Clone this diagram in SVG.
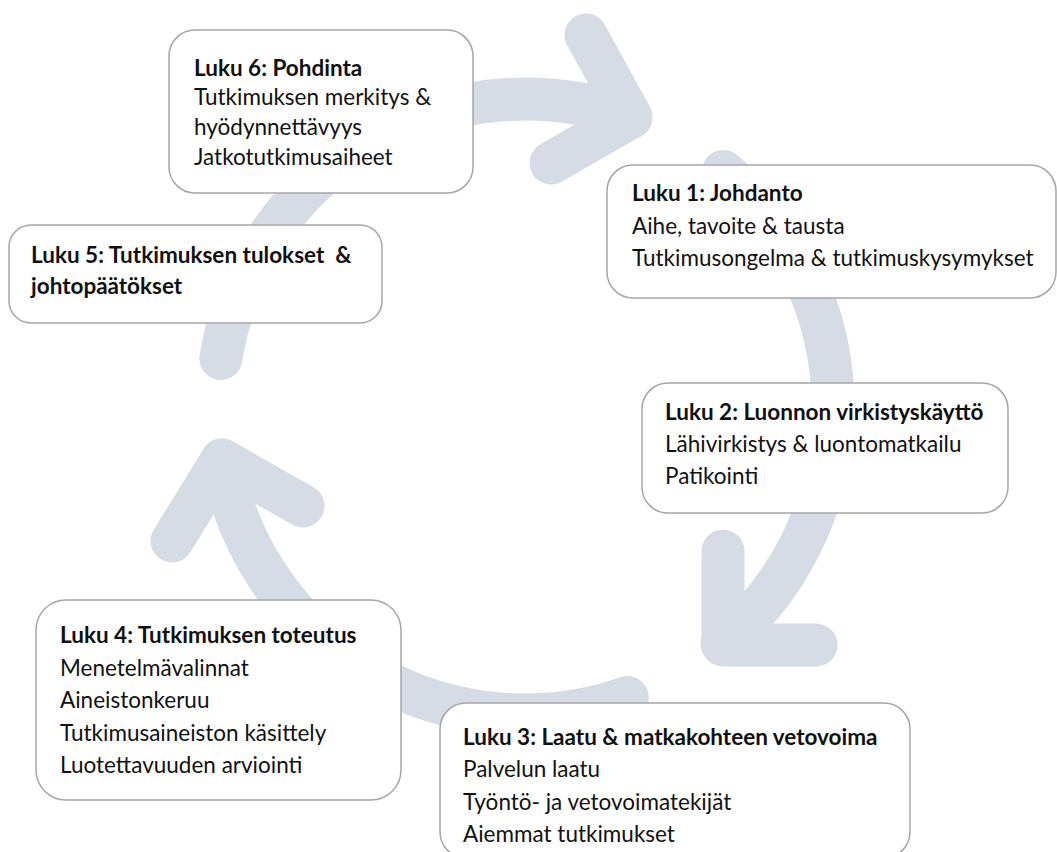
<svg xmlns="http://www.w3.org/2000/svg" width="1057" height="852" viewBox="0 0 1057 852">
  <style>
    .arc { fill: none; stroke: #D6DCE5; stroke-width: 43; stroke-linecap: round; stroke-linejoin: round; }
    .box { fill: #FFFFFF; stroke: #A6A6A6; stroke-width: 1.5; }
    .t { font-family: Lato, "Liberation Sans", sans-serif; font-size: 22.5px; fill: #111111; }
    .b { font-weight: bold; }
  </style>
  <rect width="1057" height="852" fill="#FFFFFF"/>
  <g id="connectors">
    <path class="arc" d="M 220.9 358.4 A 308 308 0 0 1 630.8 117.8"/>
    <path class="arc" d="M 586 35 L 631 117 L 551 163"/>
    <path class="arc" d="M 723.4 171.4 A 308 308 0 0 1 722 643.8"/>
    <path class="arc" d="M 723 551 L 723 645 L 816 645"/>
    <path class="arc" d="M 627.3 697.5 A 308 308 0 0 1 221.6 460"/>
    <path class="arc" d="M 172 541 L 222 460 L 303 506"/>
  </g>
  <g id="node6">
    <rect class="box" x="169" y="30" width="304" height="163" rx="26"/>
    <text class="t b" x="194" y="76">Luku 6: Pohdinta</text>
    <text class="t" x="194" y="105">Tutkimuksen merkitys &amp;</text>
    <text class="t" x="194" y="135">hyödynnettävyys</text>
    <text class="t" x="194" y="165">Jatkotutkimusaiheet</text>
  </g>
  <g id="node1">
    <rect class="box" x="607" y="165" width="449" height="133" rx="26"/>
    <text class="t b" x="632" y="201">Luku 1: Johdanto</text>
    <text class="t" x="632" y="234">Aihe, tavoite &amp; tausta</text>
    <text class="t" x="632" y="266">Tutkimusongelma &amp; tutkimuskysymykset</text>
  </g>
  <g id="node5">
    <rect class="box" x="9" y="225" width="373" height="98" rx="22"/>
    <text class="t b" x="31" y="263" xml:space="preserve">Luku 5: Tutkimuksen tulokset  &amp;</text>
    <text class="t b" x="31" y="294">johtopäätökset</text>
  </g>
  <g id="node2">
    <rect class="box" x="642" y="383" width="366" height="130" rx="26"/>
    <text class="t b" x="665" y="420">Luku 2: Luonnon virkistyskäyttö</text>
    <text class="t" x="665" y="452">Lähivirkistys &amp; luontomatkailu</text>
    <text class="t" x="665" y="484">Patikointi</text>
  </g>
  <g id="node4">
    <rect class="box" x="36" y="600" width="365" height="200" rx="30"/>
    <text class="t b" x="60" y="643">Luku 4: Tutkimuksen toteutus</text>
    <text class="t" x="60" y="676">Menetelmävalinnat</text>
    <text class="t" x="60" y="708">Aineistonkeruu</text>
    <text class="t" x="60" y="741">Tutkimusaineiston käsittely</text>
    <text class="t" x="60" y="773">Luotettavuuden arviointi</text>
  </g>
  <g id="node3">
    <rect class="box" x="440" y="703" width="470" height="155" rx="26"/>
    <text class="t b" x="463" y="745">Luku 3: Laatu &amp; matkakohteen vetovoima</text>
    <text class="t" x="463" y="777">Palvelun laatu</text>
    <text class="t" x="463" y="810">Työntö- ja vetovoimatekijät</text>
    <text class="t" x="463" y="842">Aiemmat tutkimukset</text>
  </g>
</svg>
